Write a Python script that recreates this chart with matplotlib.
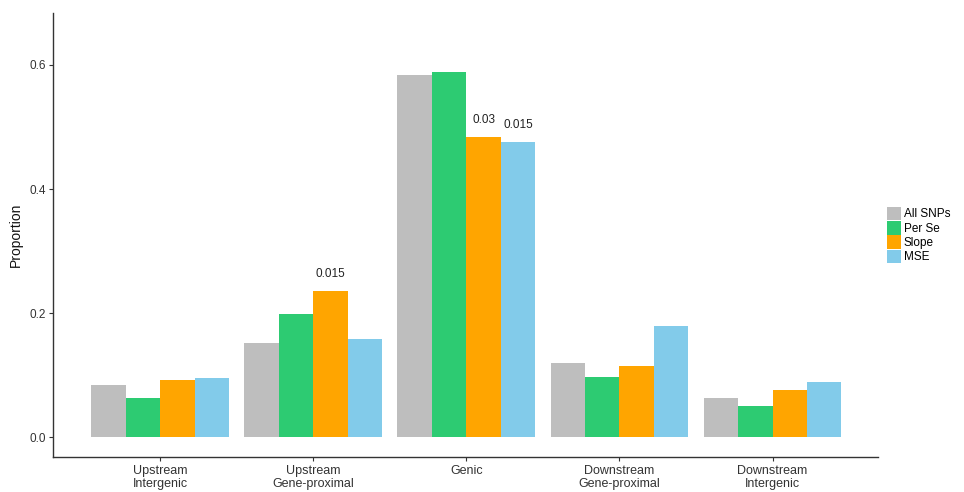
import matplotlib.pyplot as plt
import numpy as np

regions = ["Upstream\nIntergenic", "Upstream\nGene-proximal", "Genic",
           "Downstream\nGene-proximal", "Downstream\nIntergenic"]
series = ["All SNPs", "Per Se", "Slope", "MSE"]
all_snps = [0.084, 0.152, 0.584, 0.120, 0.063]
per_se = [0.063, 0.199, 0.589, 0.097, 0.050]
slope = [0.092, 0.235, 0.484, 0.115, 0.076]
mse = [0.095, 0.159, 0.476, 0.180, 0.089]
colors = ["#BEBEBE", "#2DCB72", "#FFA500", "#82CBEA"]

# p-value labels: (region index, series index, text)
pvals = [(1, 2, "0.015"), (2, 2, "0.03"), (2, 3, "0.015")]

plt.rcParams['font.family'] = ['Liberation Sans', 'DejaVu Sans']

fig = plt.figure(figsize=(9.64, 4.92), dpi=100)
ax = fig.add_axes([0.055, 0.071, 0.856, 0.903])

x = np.arange(1, len(regions) + 1)
w = 0.225
values = [all_snps, per_se, slope, mse]
for i, (name, vals, c) in enumerate(zip(series, values, colors)):
    ax.bar(x + (i - 1.5) * w, vals, width=w, color=c, label=name, linewidth=0)

for r, s, txt in pvals:
    ax.text(x[r] + (s - 1.5) * w, values[s][r] + 0.018, txt,
            ha='center', va='bottom', fontsize=8.5, color='#222222')

ax.set_xlim(0.30, 5.69)
ax.set_ylim(-0.032, 0.684)
ax.set_xticks(x)
ax.set_xticklabels(regions, fontsize=9, color='#333333', linespacing=1.05)
ax.set_yticks([0.0, 0.2, 0.4, 0.6])
ax.set_yticklabels(["0.0", "0.2", "0.4", "0.6"], fontsize=8.5, color='#333333')
ax.tick_params(length=3, width=0.8, color='#333333', pad=2)
ax.tick_params(axis='x', pad=3)
ax.set_ylabel("Proportion", fontsize=10, color='#111111', labelpad=5)

for side in ['top', 'right']:
    ax.spines[side].set_visible(False)
for side in ['left', 'bottom']:
    ax.spines[side].set_color('#333333')
    ax.spines[side].set_linewidth(1.0)

ax.legend(loc='center left', bbox_to_anchor=(1.005, 0.5), frameon=False,
          fontsize=8.5, handlelength=1.2, handleheight=1.4,
          handletextpad=0.2, labelspacing=0.05, borderaxespad=0)

fig.savefig("out.png", dpi=100)
